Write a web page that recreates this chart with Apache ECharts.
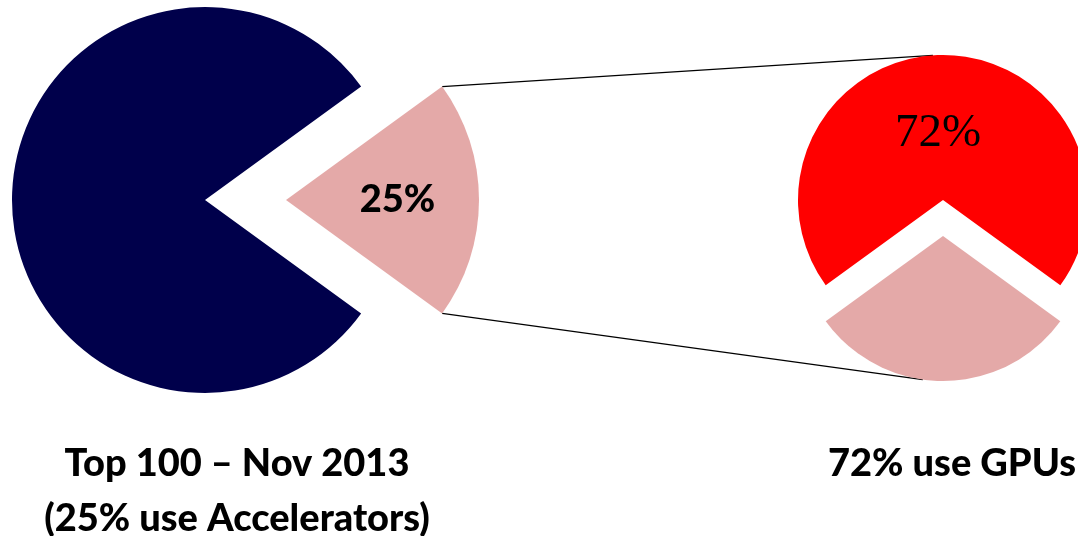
<!DOCTYPE html>
<html>
<head>
<meta charset="utf-8">
<script src="https://cdn.jsdelivr.net/npm/echarts@6/dist/echarts.min.js"></script>
<style>
html, body { margin: 0; padding: 0; background: #fff; }
#main { width: 1078px; height: 536px; }
</style>
</head>
<body>
<div id="main"></div>
<script>
// left pie: Top 100, slice sizes as drawn
var leftNames = ['Accelerators', 'Other'];
var leftValues = [20, 80];
var leftLabels = ['25%', ''];
// right pie: accelerator breakdown
var rightNames = ['Other', 'GPUs'];
var rightValues = [30, 70];
var rightLabels = ['', '72%'];
var leftTitle = 'Top 100 \u2013 Nov 2013\n(25% use Accelerators)';
var rightTitle = '72% use GPUs';

var navy = '#00004b';
var pink = '#e4a9a8';
var red = '#ff0000';

// pie geometry
var L = { cx: 205, cy: 200, r: 193, start: 36, off: 81 };
var R = { cx: 943, cy: 200, r: 145, start: -36, off: 36 };

function pt(cx, cy, r, deg) {
	var a = deg * Math.PI / 180;
	return [cx + r * Math.cos(a), cy - r * Math.sin(a)];
}

var leftTip1 = pt(L.cx + L.off, L.cy, L.r, 36);
var leftTip2 = pt(L.cx + L.off, L.cy, L.r, -36);
var rightTop = pt(R.cx, R.cy, R.r, 94);
var rightBot = pt(R.cx, R.cy + R.off, R.r, -98);

var titleStyle = { fontFamily: 'Lato', fontWeight: 900, fontSize: 38, lineHeight: 55, color: '#000' };

var myChart = echarts.init(document.getElementById('main'));
var option = {
	animation: false,
	backgroundColor: '#fff',
	title: [{
		text: leftTitle,
		left: 232,
		top: 431,
		textAlign: 'center',
		textStyle: titleStyle
	}, {
		text: rightTitle,
		left: 947,
		top: 431,
		textAlign: 'center',
		textStyle: titleStyle
	}],
	graphic: [{
		type: 'line',
		shape: { x1: leftTip1[0], y1: leftTip1[1], x2: rightTop[0], y2: rightTop[1] },
		style: { stroke: '#000', lineWidth: 1.3 },
		z: 1
	}, {
		type: 'line',
		shape: { x1: leftTip2[0], y1: leftTip2[1], x2: rightBot[0], y2: rightBot[1] },
		style: { stroke: '#000', lineWidth: 1.3 },
		z: 1
	}],
	series: [{
		type: 'pie',
		center: [L.cx, L.cy],
		radius: L.r,
		startAngle: L.start,
		clockwise: true,
		selectedMode: 'single',
		selectedOffset: L.off,
		avoidLabelOverlap: false,
		emphasis: { disabled: true },
		labelLine: { show: false },
		label: {
			show: true,
			position: 'inside',
			padding: [4, 0, 0, 24],
			formatter: function (p) { return leftLabels[p.dataIndex]; },
			fontFamily: 'Lato',
			fontWeight: 900,
			fontSize: 38,
			color: '#000'
		},
		data: leftNames.map(function (n, i) {
			var c = i == 0 ? pink : navy;
			return {
				name: n,
				value: leftValues[i],
				selected: i == 0,
				itemStyle: { color: c },
				select: { itemStyle: { color: c, borderWidth: 0 } }
			};
		})
	}, {
		type: 'pie',
		center: [R.cx, R.cy],
		radius: R.r,
		startAngle: R.start,
		clockwise: true,
		selectedMode: 'single',
		selectedOffset: R.off,
		avoidLabelOverlap: false,
		emphasis: { disabled: true },
		labelLine: { show: false },
		label: {
			show: true,
			position: 'inside',
			offset: [-5, 9],
			formatter: function (p) { return rightLabels[p.dataIndex]; },
			fontFamily: 'Liberation Serif',
			fontSize: 47,
			color: '#000'
		},
		data: rightNames.map(function (n, i) {
			var c = i == 0 ? pink : red;
			return {
				name: n,
				value: rightValues[i],
				selected: i == 0,
				itemStyle: { color: c },
				select: { itemStyle: { color: c, borderWidth: 0 } }
			};
		})
	}]
};
myChart.setOption(option);
</script>
</body>
</html>
